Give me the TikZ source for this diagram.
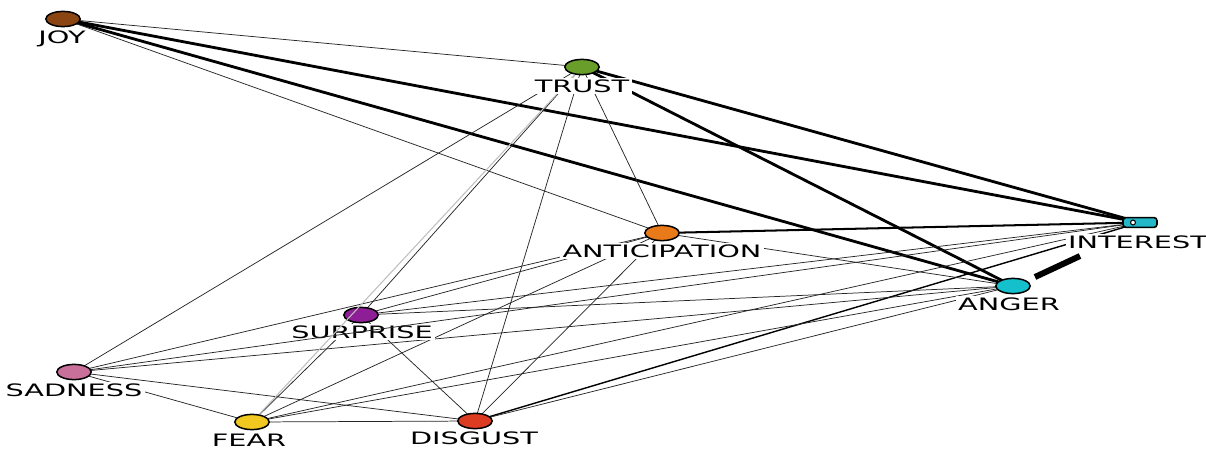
\documentclass[tikz,border=0pt]{standalone}
\usepackage{fontspec}
\setmainfont{DejaVu Sans}
\usetikzlibrary{shapes.geometric}
\pgfdeclarelayer{edgelayer}
\pgfdeclarelayer{labellayer}
\pgfdeclarelayer{latelayer}
\pgfdeclarelayer{toplayer}
\pgfsetlayers{edgelayer,labellayer,latelayer,main,toplayer}
\definecolor{cjoy}{HTML}{8B4513}
\definecolor{ctrust}{HTML}{6A9E2A}
\definecolor{cantic}{HTML}{E87A1A}
\definecolor{cinterest}{HTML}{22B8C8}
\definecolor{canger}{HTML}{14C0CC}
\definecolor{csurprise}{HTML}{8E1E96}
\definecolor{csadness}{HTML}{C8709A}
\definecolor{cfear}{HTML}{F0C820}
\definecolor{cdisgust}{HTML}{DC3C22}
\begin{document}
\begin{tikzpicture}[x=0.5669pt,y=-0.5669pt,
  emo/.style={ellipse, draw=black, line width=0.85pt, minimum width=19.5pt, minimum height=8.6pt, inner sep=0pt},
  lab/.style={fill=white, inner sep=0.8pt, font=\fontsize{9.7}{11}\selectfont, xscale=1.68},
  thinedge/.style={draw=black!85, line width=0.42pt},
  mededge/.style={draw=black, line width=0.8pt},
  midedge/.style={draw=black, line width=1.15pt},
  thickedge/.style={draw=black, line width=1.6pt},
  ghostedge/.style={draw=black!25, line width=0.6pt},
  baredge/.style={draw=black, line width=3.4pt}]
\useasboundingbox (0,0) rectangle (1206,450);

% node ellipses (main layer)
\node[emo, fill=cjoy] (joy) at (63,19) {};
\node[emo, fill=ctrust] (trust) at (582,67) {};
\node[emo, fill=cantic] (antic) at (662,233) {};
\node[draw=black, fill=cinterest, line width=0.9pt, minimum width=19.3pt, minimum height=5.6pt, inner sep=0pt, rounded corners=1.8pt] (interest) at (1140,222.5) {};
\node[circle, draw=black, fill=white, line width=0.6pt, minimum size=2.8pt, inner sep=0pt] (interestdot) at (1133,222.5) {};
\node[emo, fill=canger] (anger) at (1013,286) {};
\node[emo, fill=csurprise] (surprise) at (361,315) {};
\node[emo, fill=csadness] (sadness) at (74,372) {};
\node[emo, fill=cfear] (fear) at (252,422) {};
\node[emo, fill=cdisgust] (disgust) at (475,421) {};

% labels
\begin{pgfonlayer}{labellayer}
\node[lab] (ljoy) at (62,39) {JOY};
\node[lab] (lantic) at (662,251) {ANTICIPATION};
\node[lab] (linterest) at (1138,242) {INTEREST};
\node[lab] (langer) at (1009,304) {ANGER};
\node[lab] (lsadness) at (74,390) {SADNESS};
\node[lab] (lfear) at (249,440) {FEAR};
\node[lab] (ldisgust) at (474,438) {DISGUST};
\end{pgfonlayer}
\begin{pgfonlayer}{latelayer}
\node[lab] (lsurprise) at (362,332) {SURPRISE};
\draw[thinedge] (sadness.center) -- (interest.center);
\end{pgfonlayer}

% edges
\begin{pgfonlayer}{edgelayer}
\draw[thickedge] (joy.center) -- (interest.center);
\draw[thickedge] (joy.center) -- (anger.center);
\draw[thickedge] (trust.center) -- (interest.center);
\draw[thickedge] (trust.center) -- (anger.center);
\draw[midedge] (antic.center) -- (interest.center);
\draw[mededge] (disgust.center) -- (interest.center);
\draw[thinedge] (joy.center) -- (trust.center);
\draw[thinedge] (joy.center) -- (antic.center);
\draw[thinedge] (trust.center) -- (sadness.center);
\draw[thinedge] (trust.center) -- (surprise.center);
\draw[thinedge] (trust.center) -- (disgust.center);
\draw[thinedge] (trust.center) -- (antic.center);
\draw[thinedge] (antic.center) -- (surprise.center);
\draw[thinedge] (antic.center) -- (sadness.center);
\draw[thinedge] (antic.center) -- (fear.center);
\draw[thinedge] (antic.center) -- (disgust.center);
\draw[thinedge] (antic.center) -- (anger.center);
\draw[thinedge] (surprise.center) -- (interest.center);
\draw[thinedge] (surprise.center) -- (anger.center);
\draw[thinedge] (surprise.center) -- (fear.center);
\draw[thinedge] (surprise.center) -- (disgust.center);
\draw[thinedge] (sadness.center) -- (anger.center);
\draw[thinedge] (sadness.center) -- (fear.center);
\draw[thinedge] (sadness.center) -- (disgust.center);
\draw[thinedge] (fear.center) -- (interest.center);
\draw[thinedge] (fear.center) -- (anger.center);
\draw[thinedge] (fear.center) -- (disgust.center);
\draw[thinedge] (disgust.center) -- (anger.center);
\coordinate (barA) at (1035,277);
\coordinate (barB) at (1080,256);
\draw[baredge] (barA) -- (barB);
\end{pgfonlayer}

\begin{pgfonlayer}{toplayer}
\draw[ghostedge] (trust) -- (fear);
\node[lab] (ltrust) at (582,86) {TRUST};
\end{pgfonlayer}
\end{tikzpicture}
\end{document}
